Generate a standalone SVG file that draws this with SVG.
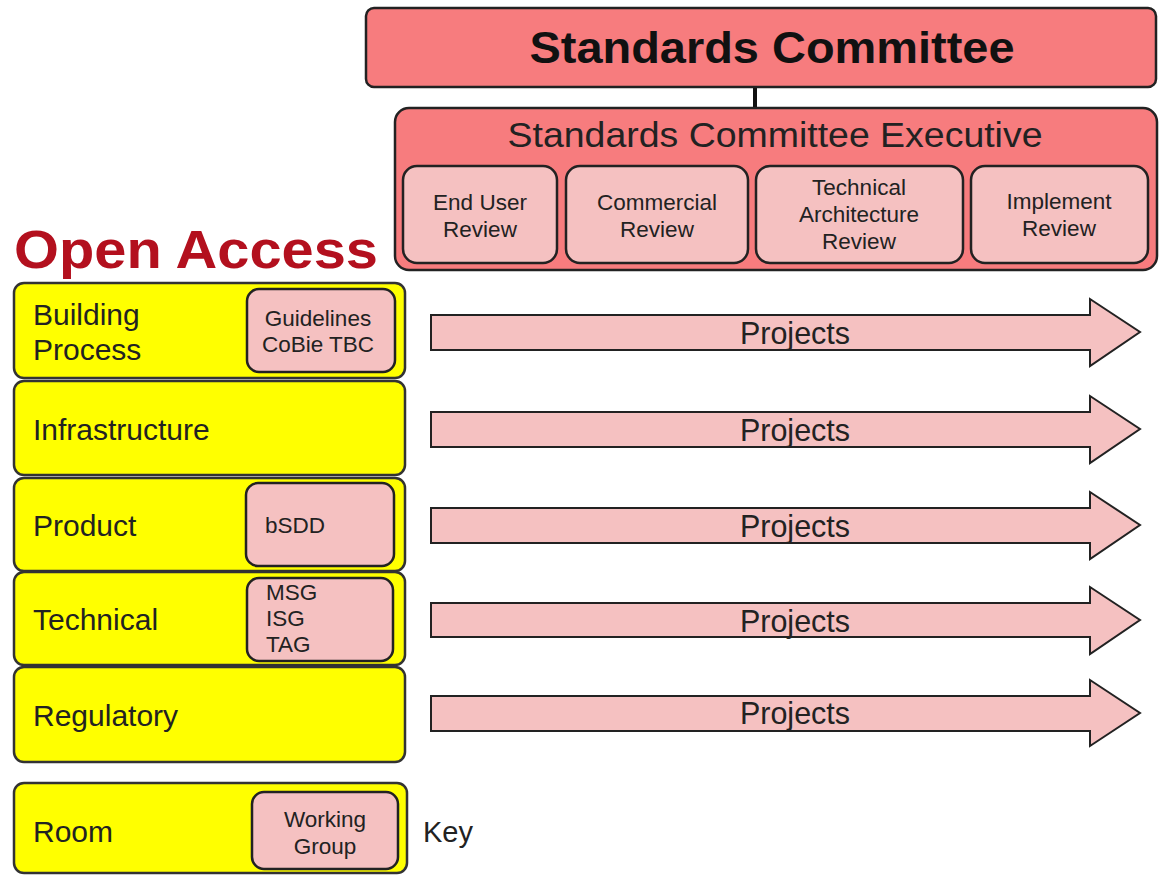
<svg xmlns="http://www.w3.org/2000/svg" width="1160" height="875" viewBox="0 0 1160 875">
<style>
text{font-family:"Liberation Sans",Arial,sans-serif;fill:#222}
.top{fill:#f77c7e;stroke:#222;stroke-width:2.5}
.sub{fill:#f5c1c1;stroke:#222;stroke-width:2.5}
.row{fill:#ffff00;stroke:#333;stroke-width:2.5}
.arrow{fill:#f5c1c1;stroke:#222;stroke-width:2}
.rl{font-size:30px}
.sl{font-size:22.5px;text-anchor:middle}
.ll{font-size:22.5px}
.pl{font-size:30.5px;text-anchor:middle}
</style>
<rect width="1160" height="875" fill="#fff"/>
<g id="connectors">
<line x1="755" y1="87" x2="755" y2="108" stroke="#111" stroke-width="4"/>
</g>
<g id="standards-committee">
<rect class="top" x="366" y="8" width="790" height="79" rx="8"/>
<text x="772" y="63" font-size="45" font-weight="bold" text-anchor="middle" textLength="485" lengthAdjust="spacingAndGlyphs" style="fill:#111">Standards Committee</text>
</g>
<g id="executive">
<rect class="top" x="395" y="108" width="762" height="162" rx="14"/>
<text x="775" y="147" font-size="35" text-anchor="middle" textLength="535" lengthAdjust="spacingAndGlyphs">Standards Committee Executive</text>
</g>
<g id="end-user-review">
<rect class="sub" x="403" y="166" width="154" height="97" rx="14"/>
<text class="sl" x="480" y="210">End User</text>
<text class="sl" x="480" y="237">Review</text>
</g>
<g id="commercial-review">
<rect class="sub" x="566" y="166" width="182" height="97" rx="14"/>
<text class="sl" x="657" y="210">Commercial</text>
<text class="sl" x="657" y="237">Review</text>
</g>
<g id="technical-architecture-review">
<rect class="sub" x="756" y="166" width="207" height="97" rx="14"/>
<text class="sl" x="859" y="195">Technical</text>
<text class="sl" x="859" y="222">Architecture</text>
<text class="sl" x="859" y="249">Review</text>
</g>
<g id="implement-review">
<rect class="sub" x="971" y="166" width="177" height="97" rx="14"/>
<text class="sl" x="1059" y="209">Implement</text>
<text class="sl" x="1059" y="236">Review</text>
</g>
<g id="open-access">
<text x="14" y="268" font-size="54" font-weight="bold" textLength="364" lengthAdjust="spacingAndGlyphs" style="fill:#b3101e">Open Access</text>
</g>
<g id="building-process">
<rect class="row" x="14" y="283" width="391" height="95" rx="10"/>
<text class="rl" x="33" y="325">Building</text>
<text class="rl" x="33" y="360">Process</text>
<rect class="sub" x="247" y="289" width="148" height="83" rx="12"/>
<text class="sl" x="318" y="326">Guidelines</text>
<text class="sl" x="318" y="352">CoBie TBC</text>
</g>
<g id="infrastructure">
<rect class="row" x="14" y="381" width="391" height="94" rx="10"/>
<text class="rl" x="33" y="440">Infrastructure</text>
</g>
<g id="product">
<rect class="row" x="14" y="478" width="391" height="93" rx="10"/>
<text class="rl" x="33" y="536">Product</text>
<rect class="sub" x="246" y="483" width="148" height="83" rx="12"/>
<text class="ll" x="265" y="533">bSDD</text>
</g>
<g id="technical">
<rect class="row" x="14" y="572" width="391" height="93" rx="10"/>
<text class="rl" x="33" y="630">Technical</text>
<rect class="sub" x="247" y="578" width="146" height="83" rx="12"/>
<text class="ll" x="266" y="600">MSG</text>
<text class="ll" x="266" y="626">ISG</text>
<text class="ll" x="266" y="652">TAG</text>
</g>
<g id="regulatory">
<rect class="row" x="14" y="667" width="391" height="95" rx="10"/>
<text class="rl" x="33" y="726">Regulatory</text>
</g>
<g id="room">
<rect class="row" x="14" y="783" width="393" height="90" rx="10"/>
<text class="rl" x="33" y="842">Room</text>
<rect class="sub" x="252" y="792" width="146" height="77" rx="12"/>
<text class="sl" x="325" y="827">Working</text>
<text class="sl" x="325" y="854">Group</text>
</g>
<g id="key">
<text x="423" y="842" font-size="29">Key</text>
</g>
<g id="projects-1">
<polygon class="arrow" points="431,315 1090,315 1090,299 1140,332 1090,366 1090,350 431,350"/>
<text class="pl" x="795" y="344">Projects</text>
</g>
<g id="projects-2">
<polygon class="arrow" points="431,412 1090,412 1090,396 1140,429 1090,463 1090,447 431,447"/>
<text class="pl" x="795" y="441">Projects</text>
</g>
<g id="projects-3">
<polygon class="arrow" points="431,508 1090,508 1090,492 1140,525 1090,559 1090,543 431,543"/>
<text class="pl" x="795" y="537">Projects</text>
</g>
<g id="projects-4">
<polygon class="arrow" points="431,603 1090,603 1090,587 1140,620 1090,654 1090,637 431,637"/>
<text class="pl" x="795" y="632">Projects</text>
</g>
<g id="projects-5">
<polygon class="arrow" points="431,696 1090,696 1090,680 1140,713 1090,746 1090,731 431,731"/>
<text class="pl" x="795" y="724">Projects</text>
</g>
</svg>
